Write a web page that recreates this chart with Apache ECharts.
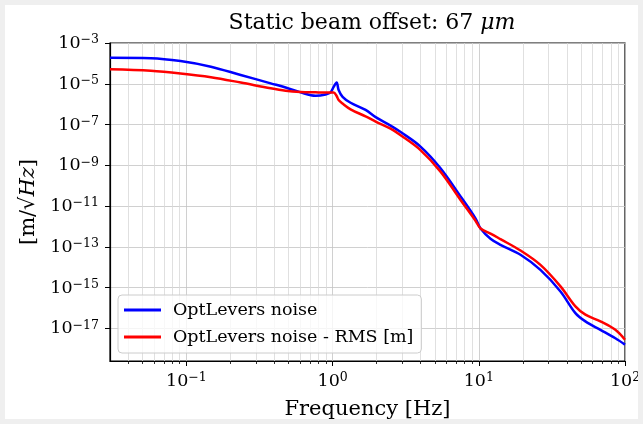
<!DOCTYPE html>
<html>
<head>
<meta charset="utf-8">
<script src="https://cdn.jsdelivr.net/npm/echarts@6/dist/echarts.min.js"></script>
<style>
    html, body {
        margin: 0;
        padding: 0;
        background: #efefef;
    }
    #chart {
        position: absolute;
        left: 5px;
        top: 5px;
        width: 633px;
        height: 414px;
        background: #ffffff;
    }
</style>
</head>
<body>
<div id="chart"></div>
<script>
// frequency points [Hz]
const freq = [0.03, 0.057, 0.091, 0.147, 0.235, 0.377, 0.477, 0.604, 0.765, 0.896, 0.969, 1.016, 1.065, 1.099, 1.17, 1.327, 1.68, 1.97, 2.49, 2.92, 3.99, 5.47, 7.5, 9.49, 10.28, 12.02, 14.06, 19.28, 26.4, 36.2, 45.8, 53.6, 67.9, 85.9, 100];
// OptLevers noise [m/sqrt(Hz)]
const noise = [1.9e-4, 1.8e-4, 1.3e-4, 6.9e-5, 2.7e-5, 1.05e-5, 6.6e-6, 3.8e-6, 2.6e-6, 3.0e-6, 3.8e-6, 7e-6, 1.17e-5, 5e-6, 2.3e-6, 1.17e-6, 5.2e-7, 2.3e-7, 8.9e-8, 4.3e-8, 8.3e-9, 7.2e-10, 3.0e-11, 2.5e-12, 7.9e-13, 2.5e-13, 1.26e-13, 4.1e-14, 7.4e-15, 6.5e-16, 5.6e-17, 2.2e-17, 8.5e-18, 3.3e-18, 1.6e-18];
// OptLevers noise - RMS [m]
const rms = [5.1e-5, 4.3e-5, 3.2e-5, 2.1e-5, 1.15e-5, 6.0e-6, 4.6e-6, 4.0e-6, 3.8e-6, 3.7e-6, 3.7e-6, 3.7e-6, 2.5e-6, 1.6e-6, 1.07e-6, 5.6e-7, 2.5e-7, 1.4e-7, 6.3e-8, 3.0e-8, 5.6e-9, 4.9e-10, 2.0e-11, 1.9e-12, 8e-13, 4.5e-13, 2.4e-13, 6.6e-14, 1.3e-14, 1.15e-15, 1.2e-16, 4.7e-17, 2.2e-17, 8.5e-18, 2.75e-18];

// tick exponents
const xMajor = [-1, 0, 1, 2];
const yMajor = [-17, -15, -13, -11, -9, -7, -5, -3];
const xMinorMant = [2, 3, 4, 5, 6, 7, 8, 9];

const xMin = Math.log10(0.03);
const xMax = 2;
const yMin = -18.6;
const yMax = -3;

const xMinor = [];
[-2, -1, 0, 1].forEach(e => {
    xMinorMant.forEach(m => {
        const v = Math.log10(m) + e;
        if (v > xMin && v < xMax) xMinor.push(v);
    });
});

const toPairs = (xs, ys) => xs.map((f, i) => [Math.log10(f), Math.log10(ys[i])]);

const powLabel = v => {
    const n = Math.round(v);
    return '{b|10}{e|' + (n < 0 ? '\u2212' + (-n) : n) + '}';
};

const powRich = {
    b: { fontFamily: 'DejaVu Serif', fontSize: 17.5, color: '#000', verticalAlign: 'bottom' },
    e: { fontFamily: 'DejaVu Serif', fontSize: 12.5, color: '#000', verticalAlign: 'bottom', padding: [0, 0, 6, 0] }
};

const font = 'DejaVu Serif';

let option = {
    animation: false,
    title: {
        text: '{a|Static beam offset: 67 }{i|\u03bcm}',
        left: 362,
        top: 2,
        textAlign: 'center',
        textStyle: {
            fontWeight: 'normal',
            rich: {
                a: { fontFamily: font, fontSize: 22, fontWeight: 'normal', color: '#000' },
                i: { fontFamily: font, fontSize: 22, fontWeight: 'normal', fontStyle: 'italic', color: '#000' }
            }
        }
    },
    grid: {
        left: 105,
        top: 38,
        width: 515,
        height: 318,
        outerBoundsMode: 'none',
        containLabel: false,
        show: true,
        borderColor: '#000',
        borderWidth: 1.2,
        backgroundColor: 'transparent'
    },
    legend: {
        orient: 'vertical',
        left: 113,
        top: 290,
        icon: 'rect',
        itemWidth: 37,
        itemHeight: 3,
        itemGap: 9,
        padding: [6, 8, 7, 6],
        backgroundColor: 'rgba(255,255,255,0.8)',
        borderColor: '#cccccc',
        borderWidth: 1,
        borderRadius: 4,
        textStyle: {
            fontFamily: font,
            fontSize: 17.5,
            color: '#000',
            padding: [0, 0, 0, 7]
        },
        data: ['OptLevers noise', 'OptLevers noise - RMS [m]']
    },
    xAxis: [
        {
            type: 'value',
            position: 'bottom',
            min: xMin,
            max: xMax,
            name: 'Frequency [Hz]',
            nameLocation: 'middle',
            nameGap: 38,
            nameTextStyle: { fontFamily: font, fontSize: 21, color: '#000' },
            axisLine: { show: true, onZero: false, lineStyle: { color: '#000', width: 1.2 } },
            axisTick: { show: true, length: 5, customValues: xMajor, lineStyle: { color: '#000', width: 1 } },
            axisLabel: { show: true, customValues: xMajor, margin: 10, formatter: powLabel, rich: powRich },
            splitLine: { show: true, lineStyle: { color: '#c4c4c4', width: 0.8 } }
        },
        {
            type: 'value',
            position: 'bottom',
            min: xMin,
            max: xMax,
            axisLine: { show: false, onZero: false },
            axisTick: { show: true, length: 3, customValues: xMinor, lineStyle: { color: '#000', width: 0.8 } },
            axisLabel: { show: false },
            splitLine: { show: true, lineStyle: { color: '#d8d8d8', width: 0.8 } }
        }
    ],
    yAxis: {
        type: 'value',
        min: yMin,
        max: yMax,
        name: '{n|[m/\u221a}{i|Hz}{n|]}',
        nameLocation: 'middle',
        nameGap: 71,
        nameRotate: 90,
        nameTextStyle: {
            rich: {
                n: { fontFamily: font, fontSize: 21, color: '#000' },
                i: { fontFamily: font, fontSize: 21, fontStyle: 'italic', color: '#000' }
            }
        },
        axisLine: { show: true, onZero: false, lineStyle: { color: '#000', width: 1.2 } },
        axisTick: { show: true, length: 5, customValues: yMajor, lineStyle: { color: '#000', width: 1 } },
        axisLabel: { show: true, customValues: yMajor, margin: 11, formatter: powLabel, rich: powRich },
        splitLine: { show: true, lineStyle: { color: '#c4c4c4', width: 0.8 } }
    },
    series: [
        {
            name: 'OptLevers noise',
            type: 'line',
            xAxisIndex: 0,
            yAxisIndex: 0,
            showSymbol: false,
            smooth: 0.35,
            lineStyle: { color: '#0000ff', width: 2.5 },
            itemStyle: { color: '#0000ff' },
            data: toPairs(freq, noise)
        },
        {
            name: 'OptLevers noise - RMS [m]',
            type: 'line',
            xAxisIndex: 0,
            yAxisIndex: 0,
            showSymbol: false,
            smooth: 0.35,
            lineStyle: { color: '#ff0000', width: 2.5 },
            itemStyle: { color: '#ff0000' },
            data: toPairs(freq, rms)
        }
    ]
};

const chartInit = () => {
    let myChart = echarts.init(document.getElementById('chart'));
    option && myChart.setOption(option);
}

chartInit();
</script>
</body>
</html>
